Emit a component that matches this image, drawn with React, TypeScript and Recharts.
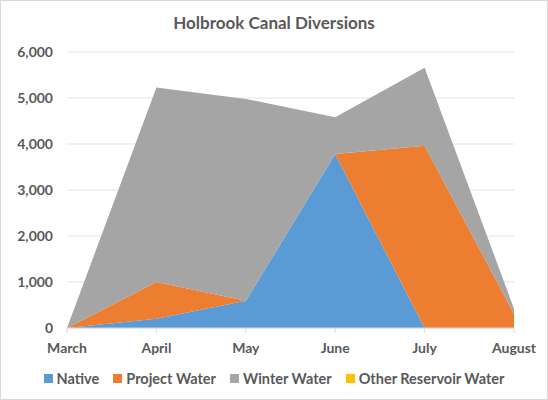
import { Area, AreaChart, CartesianGrid, XAxis, YAxis } from 'recharts';

const months = ['March', 'April', 'May', 'June', 'July', 'August'];
const native = [0, 200, 590, 3780, 0, 0];
const projectWater = [0, 800, 0, 0, 3960, 310];
const winterWater = [0, 4230, 4390, 800, 1700, 110];
const otherReservoir = [0, 0, 0, 0, 0, 0];
const yTicks = [0, 1000, 2000, 3000, 4000, 5000, 6000];

const series = [
  { key: 'native', name: 'Native', color: '#5B9BD5' },
  { key: 'project', name: 'Project Water', color: '#ED7D31' },
  { key: 'winter', name: 'Winter Water', color: '#A5A5A5' },
  { key: 'other', name: 'Other Reservoir Water', color: '#FFC000' },
];

const data = months.map((m, i) => ({
  month: m,
  native: native[i],
  project: projectWater[i],
  winter: winterWater[i],
  other: otherReservoir[i],
}));

const font = 'Lato, "Open Sans", sans-serif';
const textColor = '#595959';

function LegendRow() {
  return (
    <div style={{ display: 'flex', justifyContent: 'center', gap: 14, fontFamily: font, fontWeight: 700, fontSize: 14.5, color: textColor }}>
      {series.map((s) => (
        <span key={s.key} style={{ display: 'flex', alignItems: 'center', gap: 4 }}>
          <span style={{ width: 9, height: 9, background: s.color, display: 'inline-block' }} />
          {s.name}
        </span>
      ))}
    </div>
  );
}

export default function App() {
  return (
    <div style={{ position: 'absolute', left: 0, top: 0, width: 548, height: 400, background: '#fff', boxSizing: 'border-box', border: '1px solid #d9d9d9' }}>
      <div style={{ position: 'absolute', top: 11, width: '100%', textAlign: 'center', fontFamily: font, fontWeight: 700, fontSize: 17, color: textColor }}>
        Holbrook Canal Diversions
      </div>
      <div style={{ position: 'absolute', left: -1, top: -1 }}>
        <AreaChart width={548} height={400} data={data} margin={{ top: 52, right: 34, bottom: 42, left: 0 }}>
          <CartesianGrid vertical={false} stroke="#e3e3e3" />
          <XAxis
            dataKey="month"
            tick={{ fill: textColor, fontSize: 14, fontWeight: 700, fontFamily: font }}
            axisLine={{ stroke: '#d9d9d9' }}
            tickLine={{ stroke: '#d9d9d9' }}
            tickSize={5}
            tickMargin={10}
            height={30}
          />
          <YAxis
            ticks={yTicks}
            domain={[0, 6000]}
            tickFormatter={(v: number) => v.toLocaleString('en-US')}
            tick={{ fill: textColor, fontSize: 14, fontWeight: 700, fontFamily: font }}
            axisLine={false}
            tickLine={false}
            tickSize={6}
            tickMargin={8}
            width={67}
          />
          {series.map((s) => (
            <Area
              key={s.key}
              type="linear"
              dataKey={s.key}
              name={s.name}
              stackId="a"
              stroke="none"
              fill={s.color}
              fillOpacity={1}
              isAnimationActive={false}
            />
          ))}
        </AreaChart>
      </div>
      <div style={{ position: 'absolute', top: 369, width: '100%' }}>
        <LegendRow />
      </div>
    </div>
  );
}
